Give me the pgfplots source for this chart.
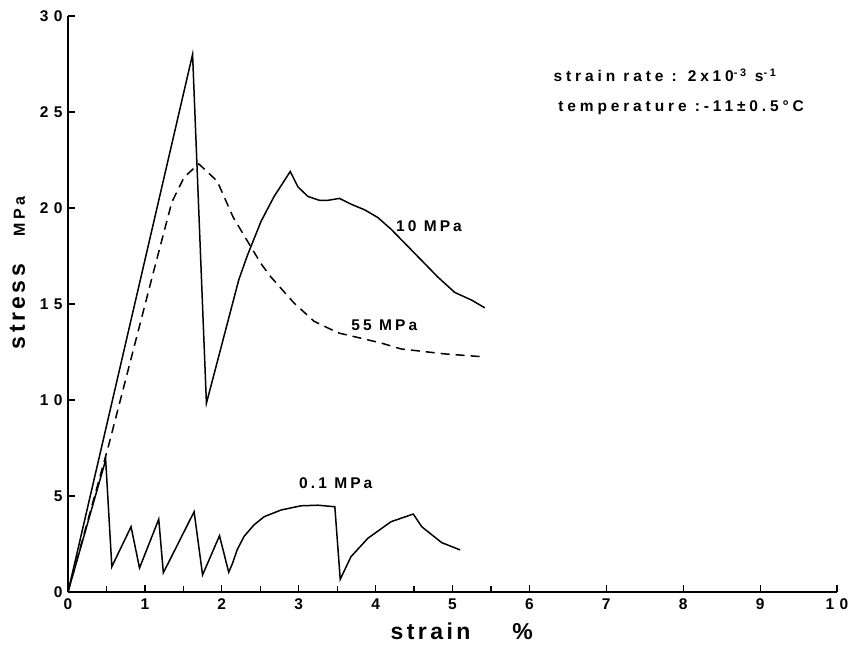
\documentclass[border=0pt]{standalone}
\usepackage{pgfplots}
\pgfplotsset{compat=1.18}
\usepackage{fontspec}
\setmainfont{Liberation Sans}
\newfontfamily\tickfont[LetterSpace=35]{Liberation Sans}
\newfontfamily\labfont[LetterSpace=15]{Liberation Sans}
\newfontfamily\annfont[LetterSpace=25]{Liberation Sans}
\newfontfamily\curvefont[LetterSpace=20]{Liberation Sans}
\usetikzlibrary{calc}

\begin{document}
\begin{tikzpicture}
\begin{axis}[
    scale only axis,
    width=769pt, height=576pt,
    xmin=0, xmax=10, ymin=0, ymax=30,
    axis x line*=bottom, axis y line*=left,
    axis line style={-, line width=1.5pt},
    xtick={0,1,...,10}, ytick={0,5,...,30},
    minor xtick={0.5,1.5,...,5.5},
    tick align=inside,
    major tick length=7pt, minor tick length=6pt,
    tick style={black, line width=1.2pt},
    /pgf/number format/assume math mode=true,
    ticklabel style={font=\tickfont\bfseries\fontsize{15.5}{17}\selectfont},
    xticklabel style={yshift=-3pt},
    yticklabel style={xshift=-2pt},
    xlabel={\labfont\bfseries\fontsize{23}{25}\selectfont strain\hspace{42pt}\%},
    xlabel style={at={(axis description cs:0.512,-0.083)}, anchor=base},
    ylabel={{\labfont\bfseries\fontsize{23}{25}\selectfont stress}\hspace{28pt}{\curvefont\bfseries\fontsize{16}{18}\selectfont MPa}},
    ylabel style={at={(axis description cs:-0.056,0.554)}, anchor=base},
    clip=false,
]
\coordinate (O) at (rel axis cs:0,0);
\coordinate (T) at (rel axis cs:1,1);

% 10 MPa
\addplot[black, line width=1.5pt] coordinates {
    (0,0) (1.62,28.0) (1.80,9.83) (2.22,16.25) (2.33,17.5) (2.51,19.3)
    (2.68,20.6) (2.89,21.9) (2.99,21.1) (3.12,20.6) (3.27,20.4) (3.38,20.4)
    (3.53,20.5) (3.68,20.2) (3.86,19.9) (4.03,19.5) (4.20,18.9) (4.42,18.0)
    (4.64,17.1) (4.81,16.4) (5.03,15.6) (5.25,15.2) (5.42,14.8)
};

% 55 MPa
\addplot[black, line width=1.5pt, dash pattern=on 9pt off 6pt] coordinates {
    (0,0) (0.53,7.66) (1.12,16.8) (1.35,20.3) (1.51,21.6) (1.70,22.3)
    (1.94,21.4) (2.15,19.5) (2.51,17.1) (2.64,16.4) (2.94,15.05) (3.20,14.1)
    (3.51,13.5) (4.07,12.97) (4.33,12.66) (4.90,12.4) (5.40,12.25)
};

% 0.1 MPa
\addplot[black, line width=1.5pt] coordinates {
    (0,0) (0.49,6.88) (0.57,1.32) (0.82,3.40) (0.93,1.25) (1.18,3.79)
    (1.24,1.0) (1.64,4.18) (1.75,0.89) (1.97,2.93) (2.09,1.03) (2.14,1.5)
    (2.20,2.2) (2.29,2.9) (2.42,3.5) (2.55,3.92) (2.77,4.27) (3.03,4.49)
    (3.25,4.52) (3.47,4.44) (3.54,0.66) (3.68,1.84) (3.90,2.80) (4.20,3.66)
    (4.49,4.06) (4.60,3.40) (4.86,2.57) (5.10,2.19)
};

\node[anchor=west, font=\curvefont\bfseries\fontsize{15.5}{17}\selectfont] at (axis cs:4.22,19.06) {10 MPa};
\node[anchor=west, font=\curvefont\bfseries\fontsize{15.5}{17}\selectfont] at (axis cs:3.64,13.87) {55 MPa};
\node[anchor=west, font=\curvefont\bfseries\fontsize{15.5}{17}\selectfont] at (axis cs:2.96,5.68) {0.1 MPa};

\node[anchor=base west, font=\annfont\bfseries\fontsize{15.5}{17}\selectfont] at (axis cs:6.27,26.6)
    {strain rate : 2x10\textsuperscript{-3} s\textsuperscript{-1}};
\node[anchor=base west, font=\annfont\bfseries\fontsize{15.5}{17}\selectfont] at (axis cs:6.33,25.05)
    {temperature :-11±0.5°C};
\end{axis}
\pgfresetboundingbox
\path[use as bounding box] ($(O)+(-68pt,-58pt)$) rectangle ($(T)+(16pt,16pt)$);
\end{tikzpicture}
\end{document}
